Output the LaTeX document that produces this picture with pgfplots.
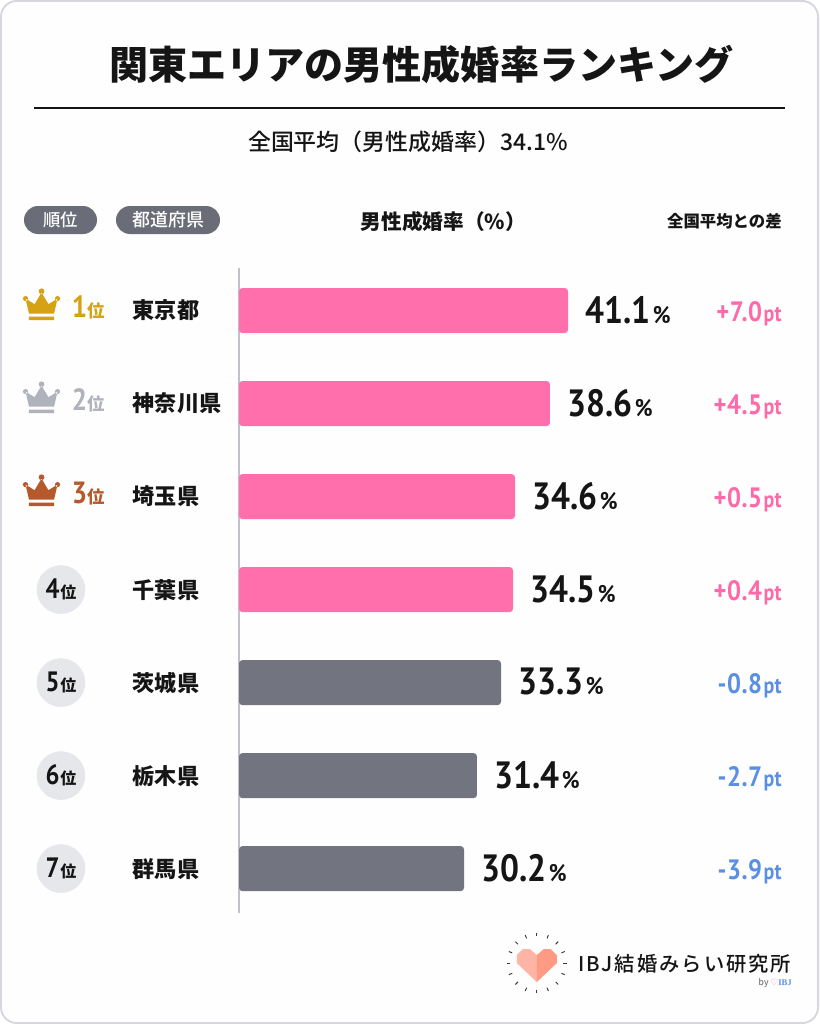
\documentclass[border=0pt]{standalone}
\usepackage{pgfplots}
\pgfplotsset{compat=1.18}
\usepackage{fontspec}
\setmainfont{Noto Sans CJK JP}
\newfontfamily\med{Noto Sans CJK JP Medium}
\newfontfamily\din[FakeStretch=0.88]{PT Sans}
\newfontfamily\dejavu{DejaVu Sans}
\newfontfamily\serifibj{Liberation Serif}
\definecolor{barpink}{HTML}{FF6FAB}
\definecolor{bargray}{HTML}{72757F}
\definecolor{pillgray}{HTML}{6A6D77}
\definecolor{gold}{HTML}{D4A213}
\definecolor{silver}{HTML}{B1B3BC}
\definecolor{bronze}{HTML}{B5592C}
\definecolor{txtpink}{HTML}{FF69A8}
\definecolor{txtblue}{HTML}{5B8FE3}
\definecolor{framecol}{HTML}{D6D7DF}
\definecolor{circ}{HTML}{E6E7EB}
\definecolor{ink}{HTML}{151515}
\newcommand{\fs}[1]{\fontsize{#1}{#1}\selectfont}
\newcommand{\rankunit}[1]{{\rmfamily\fs{#1}\bfseries 位}}
\pgfdeclareplotmark{crown}{%
  \pgfpathmoveto{\pgfpoint{-9.4pt}{-2.25pt}}%
  \pgfpathlineto{\pgfpoint{-12pt}{9pt}}%
  \pgfpathlineto{\pgfpoint{-5.2pt}{4.8pt}}%
  \pgfpathlineto{\pgfpoint{0pt}{13.5pt}}%
  \pgfpathlineto{\pgfpoint{5.2pt}{4.8pt}}%
  \pgfpathlineto{\pgfpoint{12pt}{9pt}}%
  \pgfpathlineto{\pgfpoint{9.4pt}{-2.25pt}}%
  \pgfpathclose
  \pgfpathcircle{\pgfpoint{-12pt}{9pt}}{1.95pt}%
  \pgfpathcircle{\pgfpoint{12pt}{9pt}}{1.95pt}%
  \pgfpathcircle{\pgfpoint{0pt}{14.5pt}}{2.15pt}%
  \pgfpathrectanglecorners{\pgfpoint{-9.4pt}{-4.6pt}}{\pgfpoint{9.4pt}{-7.1pt}}%
  \pgfusepathqfill
}
\pgfplotstableread{
y len label
0 41.10 41.1
1 38.85 38.6
2 34.48 34.6
3 34.23 34.5
}\pinkbars
\pgfplotstableread{
y len label
4 32.73 33.3
5 29.73 31.4
6 28.11 30.2
}\graybars
\begin{document}
\begin{tikzpicture}
% page frame
\fill[white] (0,0) rectangle (614.25pt,-768pt);
\draw[framecol,line width=1.4pt,fill=white!99.5!black,rounded corners=12pt] (0.7pt,-0.7pt) rectangle (613.55pt,-767.3pt);
\begin{axis}[
  at={(179.25pt,-200.7pt)},anchor=north west,
  scale only axis,width=409.5pt,height=483.75pt,
  xmin=0,xmax=68.21,ymin=-0.462,ymax=6.473,y dir=reverse,
  clip=false,
  axis x line=none,axis y line=left,
  y axis line style={-,color=framecol!90!black,line width=1.1pt},
  ytick={0,1,2,3,4,5,6},
  yticklabels={東京都,神奈川県,埼玉県,千葉県,茨城県,栃木県,群馬県},
  major tick length=0pt,
  yticklabel style={anchor=west,xshift=-83.2pt,text=ink,font=\fs{16.6}\bfseries},
  nodes near coords style={anchor=west,xshift=12.7pt,yshift=0.5pt,inner sep=0pt,text=ink},
]
\addplot[xbar,bar shift=0pt,bar width=33.75pt,fill=barpink,draw=none,rounded corners=2.5pt,
  point meta=explicit symbolic,
  nodes near coords={\din\fs{28.5}\bfseries\pgfplotspointmeta\kern2pt\fs{18}\%}]
  table[x=len,y=y,meta=label]{\pinkbars};
\addplot[xbar,bar shift=0pt,bar width=33.75pt,fill=bargray,draw=none,rounded corners=2.5pt,
  point meta=explicit symbolic,
  nodes near coords={\din\fs{28.5}\bfseries\pgfplotspointmeta\kern2pt\fs{18}\%}]
  table[x=len,y=y,meta=label]{\graybars};
% crowns
\addplot[only marks,mark=crown,mark options={fill=gold,draw=gold,line width=0pt}] coordinates {(-24.67,0)};
\addplot[only marks,mark=crown,mark options={fill=silver,draw=silver,line width=0pt}] coordinates {(-24.67,1)};
\addplot[only marks,mark=crown,mark options={fill=bronze,draw=bronze,line width=0pt}] coordinates {(-24.67,2)};
% rank discs with their labels
\addplot[only marks,mark=*,mark size=18pt,mark options={fill=circ,draw=circ},
  point meta=explicit symbolic,
  nodes near coords={\din\fs{21}\bfseries\pgfplotspointmeta\kern0.5pt\rankunit{12}},
  nodes near coords style={anchor=center,xshift=-12.7pt,yshift=-0.5pt,text=ink}]
  coordinates {(-22.24,3) [4] (-22.24,4) [5] (-22.24,5) [6] (-22.24,6) [7]};
% rank labels
\newcommand{\rk}[3]{\node[text=#3,anchor=base,inner sep=0pt] at (axis cs:-18.8,#1) [yshift=-5.5pt] {\din\fs{23}\bfseries #2\kern0.5pt\rankunit{13}};}
\rk{0}{1}{gold}
\rk{1}{2}{silver}
\rk{2}{3}{bronze}
% differences
\newcommand{\df}[3]{\node[text=#3,anchor=east,inner sep=0pt] at (axis cs:67.83,#1) [yshift=-2.5pt] {\din\fs{21}\bfseries\addfontfeature{LetterSpace=2} #2\kern1pt\fs{17}pt};}
\df{0}{+7.0}{txtpink}
\df{1}{+4.5}{txtpink}
\df{2}{+0.5}{txtpink}
\df{3}{+0.4}{txtpink}
\df{4}{-0.8}{txtblue}
\df{5}{-2.7}{txtblue}
\df{6}{-3.9}{txtblue}
\end{axis}
% title block
\node[text=ink,inner sep=0pt] at (316pt,-48pt) {\fs{29.3}\bfseries 関東エリアの男性成婚率ランキング};
\draw[ink,line width=1.1pt] (25.5pt,-81pt) -- (588.75pt,-81pt);
\node[text=ink,inner sep=0pt] at (306pt,-106.5pt) {\med\fs{17.2}全国平均（男性成婚率）34.1\%};
% header row
\fill[pillgray,rounded corners=10.5pt] (18pt,-154.5pt) rectangle (72.75pt,-175.5pt);
\node[white,inner sep=0pt] at (45.4pt,-165pt) {\med\fs{13}順位};
\fill[pillgray,rounded corners=10.5pt] (87pt,-154.5pt) rectangle (165pt,-175.5pt);
\node[white,inner sep=0pt] at (126pt,-165pt) {\med\fs{13.5}都道府県};
\node[text=ink,inner sep=0pt] at (332.5pt,-166pt) {\fs{15.5}\bfseries 男性成婚率（\%）};
\node[text=ink,anchor=east,inner sep=0pt] at (586.5pt,-166pt) {\fs{12.3}\bfseries 全国平均との差};
% logo
\begin{scope}[shift={(402.6pt,-722.3pt)}]
\fill[color={rgb,255:red,255;green,181;blue,165}] (0pt,6pt) -- (-5.25pt,10.5pt) -- (-10.5pt,10.5pt) -- (-15pt,6pt) -- (-15pt,0pt) -- (0pt,-14.25pt) -- cycle;
\fill[color={rgb,255:red,255;green,154;blue,133}] (0pt,6pt) -- (5.25pt,10.5pt) -- (10.5pt,10.5pt) -- (15pt,6pt) -- (15pt,0pt) -- (0pt,-14.25pt) -- cycle;
\foreach \a in {0,22.5,...,337.5}{\draw[ink!85,line width=0.7pt] (\a:20pt) -- (\a:22.7pt);}
\end{scope}
\node[text=ink,anchor=west,inner sep=0pt] at (433.5pt,-723pt) {\med\fs{15.2}\addfontfeature{LetterSpace=10}IBJ結婚みらい研究所};
\node[anchor=east,inner sep=0pt] at (594pt,-737.5pt) {\fs{6.5}\textcolor{ink!70}{by }{\dejavu\textcolor{txtpink}{♡}}\serifibj\bfseries\textcolor{txtblue}{IBJ}};
\end{tikzpicture}
\end{document}
